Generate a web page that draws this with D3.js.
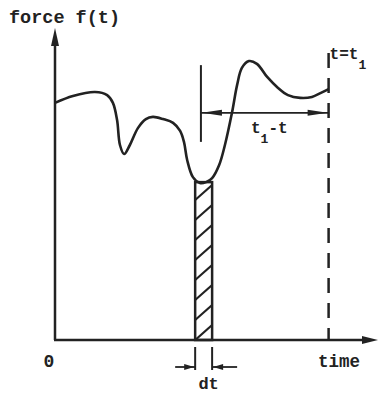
<!DOCTYPE html>
<html lang="en">
  <head>
    <script src="https://d3js.org/d3.v7.min.js"></script>
    <meta charset="UTF-8" />
    <title>force f(t)</title>
    <style>
      body { margin: 0; background: #fff; }
      text { font-family: "Liberation Mono", "DejaVu Sans Mono", monospace; fill: #222; }
    </style>
  </head>
  <body>
    <svg width="380" height="395"></svg>
    <script>
      // force curve, time 0..100, force 0..100
      var times = [0, 5.6, 12.5, 16.3, 18.1, 19.4, 20.3, 21.6, 23.4, 25.9, 28.4, 30.6, 33.8, 36.9, 39.1, 40.3,
        41.3, 43.1, 45.3, 47.2, 49.1, 51.3, 53.1, 55.3, 56.9, 58.4, 60.6, 63.1, 66.3, 69.7, 72.8, 76.6, 80.3, 83.1, 85.5];
      var forces = [76.0, 78.2, 79.5, 78.5, 76.0, 70.5, 62.5, 59.6, 62.5, 67.9, 70.8, 71.5, 70.8, 69.6, 67.0, 63.5,
        57.7, 52.2, 50.3, 50.6, 51.9, 56.1, 62.5, 72.8, 81.7, 87.2, 89.4, 88.5, 84.3, 80.8, 78.5, 77.6, 77.9, 79.2, 80.4];
      var tNow = 45.6;          // the instant t
      var t1 = 85.5;            // t = t1
      var strip = [43.8, 49.1]; // t .. t+dt
      var stripTop = 50.6;
      var tLine = [63.5, 88.1];
      var spanLevel = 72.8;
      var t1Top = 92;

      var svg = d3.select("svg");
      var x = d3.scaleLinear().domain([0, 100]).range([55, 375]);
      var y = d3.scaleLinear().domain([0, 100]).range([340, 28]);
      var ink = "#222";

      var defs = svg.append("defs");
      defs.append("clipPath").attr("id", "stripClip")
        .append("rect")
        .attr("x", x(strip[0]))
        .attr("y", y(stripTop))
        .attr("width", x(strip[1]) - x(strip[0]))
        .attr("height", y(0) - y(stripTop));

      function arrowHead(tipX, tipY, dirX, dirY, len, half) {
        var bx = tipX - dirX * len, by = tipY - dirY * len;
        var px = -dirY * half, py = dirX * half;
        svg.append("path")
          .attr("d", "M" + tipX + "," + tipY + "L" + (bx + px) + "," + (by + py) + "L" + (bx - px) + "," + (by - py) + "Z")
          .attr("fill", ink);
      }

      // hatching
      var hatch = svg.append("g").attr("clip-path", "url(#stripClip)");
      for (var yy = y(0) + 20; yy > y(stripTop) - 20; yy -= 20) {
        hatch.append("line")
          .attr("x1", x(strip[0])).attr("y1", yy)
          .attr("x2", x(strip[1])).attr("y2", yy - 15)
          .attr("stroke", ink).attr("stroke-width", 2.2);
      }
      svg.append("rect")
        .attr("x", x(strip[0]))
        .attr("y", y(stripTop))
        .attr("width", x(strip[1]) - x(strip[0]))
        .attr("height", y(0) - y(stripTop))
        .attr("fill", "none").attr("stroke", ink).attr("stroke-width", 2.5);

      // axes
      svg.append("line").attr("x1", x(0)).attr("y1", y(0)).attr("x2", x(0)).attr("y2", y(100) + 10)
        .attr("stroke", ink).attr("stroke-width", 2.5);
      arrowHead(x(0), y(100), 0, -1, 18, 4);
      svg.append("line").attr("x1", x(0) - 1).attr("y1", y(0)).attr("x2", x(100) - 8).attr("y2", y(0))
        .attr("stroke", ink).attr("stroke-width", 2.5);
      arrowHead(x(100) + 3, y(0), 1, 0, 16, 4);

      // curve
      var pts = times.map(function (d, i) { return [d, forces[i]]; });
      var line = d3.line()
        .x(function (d) { return x(d[0]); })
        .y(function (d) { return y(d[1]); })
        .curve(d3.curveCatmullRom.alpha(0.5));
      svg.append("path").datum(pts).attr("d", line)
        .attr("fill", "none").attr("stroke", ink).attr("stroke-width", 2.6)
        .attr("stroke-linejoin", "round");

      // t = t1 dashed line
      svg.append("line").attr("x1", x(t1)).attr("y1", y(t1Top)).attr("x2", x(t1)).attr("y2", y(0))
        .attr("stroke", ink).attr("stroke-width", 2.5).attr("stroke-dasharray", "15,10");

      // t line and t1 - t span
      svg.append("line").attr("x1", x(tNow)).attr("y1", y(tLine[1])).attr("x2", x(tNow)).attr("y2", y(tLine[0]))
        .attr("stroke", ink).attr("stroke-width", 2);
      svg.append("line").attr("x1", x(tNow)).attr("y1", y(spanLevel)).attr("x2", x(t1)).attr("y2", y(spanLevel))
        .attr("stroke", ink).attr("stroke-width", 1.8);
      arrowHead(x(tNow) + 1, y(spanLevel), -1, 0, 20, 3);
      arrowHead(x(t1) - 1, y(spanLevel), 1, 0, 20, 3);

      // dt marks
      var dtY = y(0) + 27;
      [strip[0], strip[1]].forEach(function (t) {
        svg.append("line").attr("x1", x(t)).attr("y1", y(0) + 7).attr("x2", x(t)).attr("y2", y(0) + 30)
          .attr("stroke", ink).attr("stroke-width", 2);
      });
      svg.append("line").attr("x1", x(strip[0]) - 20).attr("y1", dtY).attr("x2", x(strip[0])).attr("y2", dtY)
        .attr("stroke", ink).attr("stroke-width", 1.8);
      arrowHead(x(strip[0]) - 1, dtY, 1, 0, 10, 3);
      svg.append("line").attr("x1", x(strip[1])).attr("y1", dtY).attr("x2", x(strip[1]) + 25).attr("y2", dtY)
        .attr("stroke", ink).attr("stroke-width", 1.8);
      arrowHead(x(strip[1]) + 1, dtY, -1, 0, 10, 3);

      // labels
      svg.append("text").attr("x", 9).attr("y", 23).attr("font-size", "18.5px").attr("font-weight", "bold")
        .text("force f(t)");
      svg.append("text").attr("x", x(0) - 6).attr("y", y(0) + 27).attr("text-anchor", "middle")
        .attr("font-size", "18px").attr("font-weight", "bold").text("0");
      svg.append("text").attr("x", 318).attr("y", y(0) + 27).attr("font-size", "17.5px").attr("font-weight", "bold")
        .text("time");
      svg.append("text").attr("x", (x(strip[0]) + x(strip[1])) / 2 + 5).attr("y", y(0) + 49)
        .attr("text-anchor", "middle").attr("font-size", "17px").attr("font-weight", "bold").text("dt");

      var lab1 = svg.append("text").attr("x", x(t1) + 1).attr("y", 59).attr("font-size", "16px").attr("font-weight", "bold");
      lab1.append("tspan").text("t=t");
      lab1.append("tspan").attr("dy", 10).attr("font-size", "13px").text("1");

      var lab2 = svg.append("text").attr("x", 251).attr("y", 133).attr("font-size", "16px").attr("font-weight", "bold");
      lab2.append("tspan").text("t");
      lab2.append("tspan").attr("dy", 10).attr("font-size", "13px").text("1");
      lab2.append("tspan").attr("dy", -10).text("-t");
    </script>
  </body>
</html>
